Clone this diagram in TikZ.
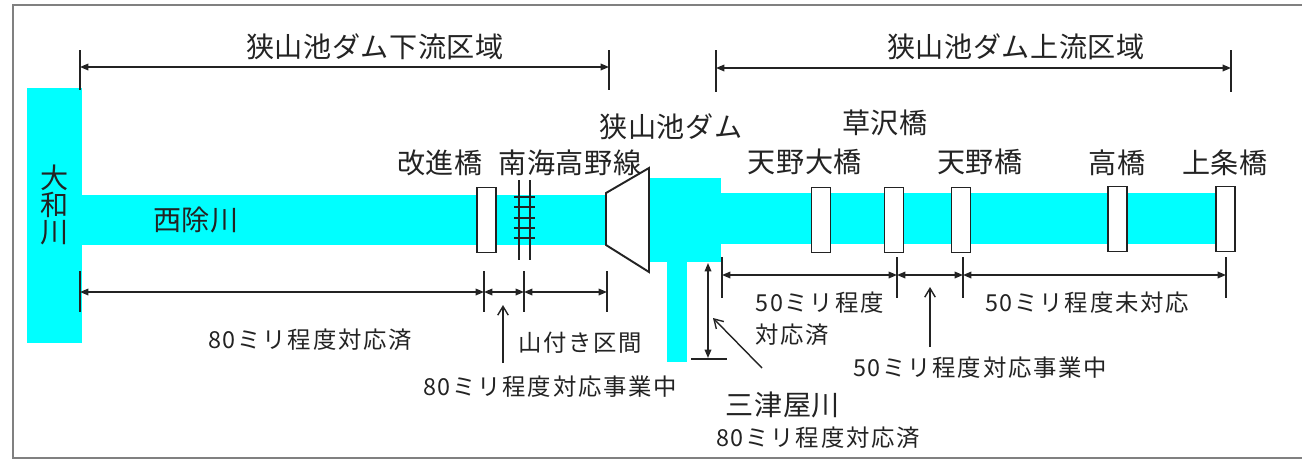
\documentclass[tikz,border=0pt]{standalone}
\usepackage{fontspec}
\newfontfamily\jpfont[LetterSpace=2]{Noto Sans CJK JP}
\newfontfamily\jpsmall[LetterSpace=7.5]{Noto Sans CJK JP}
\usetikzlibrary{positioning,arrows.meta}
\definecolor{river}{RGB}{0,255,255}
\definecolor{ink}{RGB}{35,35,35}

\begin{document}
\begin{tikzpicture}[
    x=0.02cm, y=-0.02cm,
    water/.style={fill=river, draw=none},
    bridge/.style={draw=ink, fill=white, line width=1.1pt, minimum width=0.38cm, minimum height=1.3cm, inner sep=0pt},
    lbl/.style={font=\jpfont\fontsize{16}{15.4}\selectfont, text=ink, inner sep=0pt},
    note/.style={font=\jpsmall\fontsize{13.3}{18}\selectfont, text=ink, inner sep=0pt},
    dim/.style={{Triangle[length=4.8pt,width=3.8pt]}-{Triangle[length=4.8pt,width=3.8pt]}, draw=ink, line width=0.8pt},
    tick/.style={draw=ink, line width=0.9pt},
    pointer/.style={-{Straight Barb[length=5pt,width=6pt]}, draw=ink, line width=0.8pt}
]
\useasboundingbox (0,0) rectangle (1302,461);
\draw[gray, line width=1.2pt] (1302,5) -- (13,5) -- (13,458) -- (1302,458);

% rivers
\fill[water] (27,88) rectangle (82,343);
\fill[water] (82,195) rectangle (610,245);
\fill[water] (650,178) rectangle (721,262);
\fill[water] (667,262) rectangle (687,362);
\fill[water] (721,193) rectangle (1225,244);

% dam
\draw[ink, line width=1.1pt, fill=white] (606,193) -- (649,168) -- (649,272) -- (606,245) -- cycle;

% railway
\foreach \x in {519,530}
  \draw[ink, line width=1pt] (\x,180) -- (\x,260);
\foreach \y in {197,207,218,228,238}
  \draw[ink, line width=1pt] (514,\y) -- (535,\y);

% bridges
\node[bridge] (kaishin) at (486.5,220) {};
\node[bridge] (amanoohashi) at (821,220) {};
\node[bridge] (kusazawa) at (894,220) {};
\node[bridge] (amano) at (961,220) {};
\node[bridge] (takahashi) at (1117.5,219) {};
\node[bridge] (kamijo) at (1225.5,219) {};

% labels
\node[lbl] (down) at (375,47) {狭山池ダム下流区域};
\node[lbl] (up) at (1016,47) {狭山池ダム上流区域};
\node[lbl, align=center] (yamato) at (55,205) {大\\和\\川};
\node[lbl] (nishiyoke) at (196,220) {西除川};
\node[lbl] at (440,163) {改進橋};
\node[lbl] at (570,163) {南海高野線};
\node[lbl] at (671,127) {狭山池ダム};
\node[lbl] at (805,162) {天野大橋};
\node[lbl] at (885,123) {草沢橋};
\node[lbl] at (980,162) {天野橋};
\node[lbl] at (1117,163) {高橋};
\node[lbl] at (1225,163) {上条橋};
\node[lbl] (mitsuya) at (783,405) {三津屋川};

% notes
\node[note] at (310,340) {80ミリ程度対応済};
\node[note] (doing80) at (550,387) {80ミリ程度対応事業中};
\node[note] at (580,343) {山付き区間};
\node[note, align=left, anchor=west] at (755,319) {50ミリ程度\\対応済};
\node[note] (doing50) at (980,368) {50ミリ程度対応事業中};
\node[note] at (1087,303) {50ミリ程度未対応};
\node[note] at (818,438) {80ミリ程度対応済};

% top dimensions
\coordinate (dA) at (80,67);  \coordinate (dB) at (609,67);
\coordinate (uA) at (716,68); \coordinate (uB) at (1231,68);
\draw[tick] (80,50) -- (80,90);  \draw[tick] (609,50) -- (609,90);
\draw[tick] (716,50) -- (716,92); \draw[tick] (1231,50) -- (1231,92);
\draw[dim] (dA) -- (dB);
\draw[dim] (uA) -- (uB);

% downstream sections
\coordinate (s1) at (80,292);  \coordinate (s2) at (484,292);
\coordinate (s3) at (524,292); \coordinate (s4) at (607,292);
\foreach \x in {80,484,524,607}
  \draw[tick] (\x,271) -- (\x,312);
\draw[dim] (s1) -- (s2);
\draw[dim] (s2) -- (s3);
\draw[dim] (s3) -- (s4);

% upstream sections
\coordinate (r1) at (722,275); \coordinate (r2) at (897,275);
\coordinate (r3) at (963,275); \coordinate (r4) at (1226,275);
\foreach \x in {722,897,963,1226}
  \draw[tick] (\x,257) -- (\x,298);
\draw[dim] (r1) -- (r2);
\draw[dim] (r2) -- (r3);
\draw[dim] (r3) -- (r4);

% tributary
\coordinate (m1) at (708,263); \coordinate (m2) at (708,358);
\draw[tick] (691,359) -- (727,359);
\draw[dim] (m1) -- (m2);

% pointers
\coordinate (p80) at (503,363); \coordinate (q80) at (503,305);
\coordinate (p50) at (930,347); \coordinate (q50) at (930,287);
\coordinate (pm) at (762,368);  \coordinate (qm) at (713,318);
\draw[pointer] (p80) -- (q80);
\draw[pointer] (p50) -- (q50);
\draw[pointer] (pm) -- (qm);

\end{tikzpicture}
\end{document}
